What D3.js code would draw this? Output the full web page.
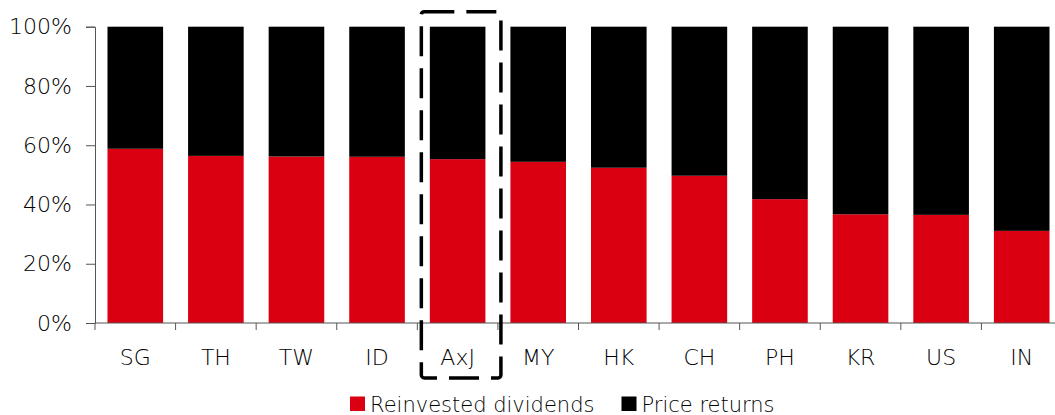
<!DOCTYPE html>
<html>
<head>
<meta charset="utf-8">
<script src="https://cdnjs.cloudflare.com/ajax/libs/d3/7.8.5/d3.min.js"></script>
<style>
  body { margin: 0; background: #fff; }
  svg text { font-family: "DejaVu Sans", sans-serif; font-weight: 300; fill: #000; }
</style>
</head>
<body>
<div id="root"></div>
<script>
// markets, share of total return from reinvested dividends (rest = price returns)
var markets = ["SG", "TH", "TW", "ID", "AxJ", "MY", "HK", "CH", "PH", "KR", "US", "IN"];
var dividends = [58.8, 56.4, 56.2, 56.1, 55.3, 54.4, 52.4, 49.7, 41.8, 36.7, 36.5, 31.1];
var priceReturns = dividends.map(function(d){ return 100 - d; });
var yTicks = [0, 20, 40, 60, 80, 100];
var highlight = "AxJ";

var colors = {
    dividends: "#db0011",
    price: "#000000"
};

var width = 1055, height = 415;

var svg = d3.select("#root").append("svg")
    .attr("width", width)
    .attr("height", height);

var x = d3.scaleBand()
    .domain(markets)
    .range([95, 1062])
    .paddingInner(0.31)
    .paddingOuter(0.155);

var y = d3.scaleLinear()
    .domain([0, 100])
    .range([323, 26.7]);

var rows = markets.map(function(m, i){
    return { market: m, dividends: dividends[i], price: priceReturns[i] };
});
var stack = d3.stack().keys(["dividends", "price"])(rows);

svg.append("g")
    .selectAll("g")
    .data(stack)
    .enter()
    .append("g")
    .attr("fill", function(d){ return colors[d.key]; })
    .selectAll("rect")
    .data(function(d){ return d; })
    .enter()
    .append("rect")
    .attr("x", function(d){ return x(d.data.market); })
    .attr("width", x.bandwidth())
    .attr("y", function(d){ return y(d[1]); })
    .attr("height", function(d){ return y(d[0]) - y(d[1]); });

// y axis
var yAxis = svg.append("g")
    .attr("transform", "translate(95,0)")
    .call(d3.axisLeft(y)
        .tickValues(yTicks)
        .tickFormat(function(d){ return d + "%"; })
        .tickSize(9)
        .tickPadding(14));
yAxis.select(".domain").attr("stroke", "#555");
yAxis.selectAll(".tick line").attr("stroke", "#555");
yAxis.selectAll("text").style("font-size", "22px").attr("fill", "#000");

// x axis: labels centred, ticks at the band edges
var xAxis = svg.append("g")
    .attr("transform", "translate(0,323)")
    .call(d3.axisBottom(x).tickSize(0).tickPadding(26));
xAxis.select(".domain").remove();
xAxis.selectAll("text").style("font-size", "22px").attr("fill", "#000");

svg.append("line")
    .attr("x1", 95).attr("x2", width)
    .attr("y1", y(0)).attr("y2", y(0))
    .attr("stroke", "#555");

var edges = markets.map(function(m){ return x(m) - x.step() * x.paddingInner() / 2; });
svg.selectAll(".xtick")
    .data(edges)
    .enter()
    .append("line")
    .attr("class", "xtick")
    .attr("x1", function(d){ return d; })
    .attr("x2", function(d){ return d; })
    .attr("y1", y(0))
    .attr("y2", y(0) + 7)
    .attr("stroke", "#555");

// dashed box round the regional aggregate
var hx = x(highlight) - x.step() * x.paddingInner() / 2 + 4;
svg.append("rect")
    .attr("x", hx)
    .attr("y", y(100) - 15)
    .attr("width", x.step() - 1)
    .attr("height", y(0) + 55 - (y(100) - 15))
    .attr("rx", 3)
    .attr("fill", "none")
    .attr("stroke", "#000")
    .attr("stroke-width", 3.5)
    .attr("stroke-dasharray", "30,12");

// legend
var legendItems = [
    { label: "Reinvested dividends", color: colors.dividends, x: 350 },
    { label: "Price returns", color: colors.price, x: 621.5 }
];
var legend = svg.append("g").selectAll("g")
    .data(legendItems)
    .enter()
    .append("g")
    .attr("transform", function(d){ return "translate(" + d.x + ",396.5)"; });
legend.append("rect")
    .attr("width", 15)
    .attr("height", 14.5)
    .attr("fill", function(d){ return d.color; });
legend.append("text")
    .attr("x", 20)
    .attr("y", 15)
    .style("font-size", "21px")
    .text(function(d){ return d.label; });
</script>
</body>
</html>
